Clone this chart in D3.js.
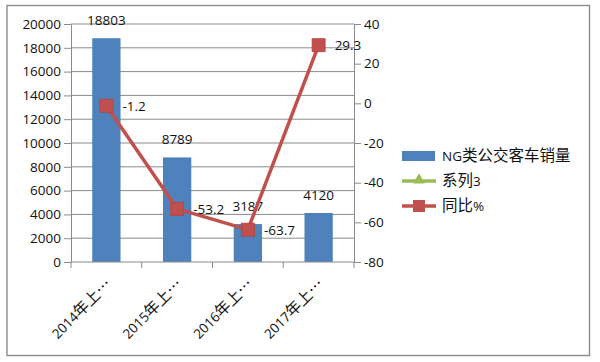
<!DOCTYPE html>
<html><head><meta charset="utf-8">
<script src="https://cdn.jsdelivr.net/npm/d3@7/dist/d3.min.js"></script>
<style>
body{margin:0;background:#fff;}
svg text{font-family:"Open Sans","Noto Sans CJK SC",sans-serif;font-size:13.5px;fill:#111;}
tspan.cjk{font-family:"Noto Sans CJK SC",sans-serif;font-size:15.5px;}
</style></head><body>
<svg id="c" width="600" height="362"></svg>
<script>
const categories = ["2014年上…","2015年上…","2016年上…","2017年上…"];
const sales = [18803, 8789, 3187, 4120];
const yoy = [-1.2, -53.2, -63.7, 29.3];
const leftTicks = [0,2000,4000,6000,8000,10000,12000,14000,16000,18000,20000];
const rightTicks = [-80,-60,-40,-20,0,20,40];
const legendNames = ["NG类公交客车销量","系列3","同比%"];

const svg = d3.select("#c");
const L = 71, R = 354, T = 24, B = 262;
const grid = "#8a8a8a";
const fmt = d => String(d);
const ff = '"Open Sans","Noto Sans CJK SC",sans-serif';

function rich(textSel){
  textSel.each(function(d){
    const t = d3.select(this);
    const parts = String(d).split(/([\u2026\u3000-\u9fff\uff00-\uffef]+)/).filter(s=>s.length);
    parts.forEach(p=>{
      const sp = t.append("tspan").text(p);
      if(/[\u2026\u3000-\u9fff\uff00-\uffef]/.test(p)) sp.attr("class","cjk");
    });
  });
}

svg.append("rect").attr("x",7).attr("y",5.5).attr("width",582.5).attr("height",350)
  .attr("fill","#fff").attr("stroke","#8c8c8c").attr("stroke-width",1.4);

const x = d3.scaleBand().domain(categories).range([L,R]).padding(0);
const yL = d3.scaleLinear().domain([0,20000]).range([B,T]);
const yR = d3.scaleLinear().domain([-80,40]).range([B,T]);

// gridlines
svg.append("g").selectAll("line").data(leftTicks.filter(d=>d>0)).join("line")
  .attr("x1",L).attr("x2",R).attr("y1",d=>yL(d)).attr("y2",d=>yL(d))
  .attr("stroke",grid).attr("stroke-width",1);

// left axis
const gl = svg.append("g").attr("transform",`translate(${L},0)`)
  .call(d3.axisLeft(yL).tickValues(leftTicks).tickFormat(fmt).tickSize(7).tickPadding(3).tickSizeOuter(0));
gl.select(".domain").attr("stroke",grid);
gl.selectAll(".tick line").attr("stroke",grid);
gl.selectAll("text").attr("fill","#111").style("font-size","13.5px").style("font-family",ff);

// right axis
const gr = svg.append("g").attr("transform",`translate(${R},0)`)
  .call(d3.axisRight(yR).tickValues(rightTicks).tickFormat(fmt).tickSize(7).tickPadding(3).tickSizeOuter(0));
gr.select(".domain").attr("stroke",grid);
gr.selectAll(".tick line").attr("stroke",grid);
gr.selectAll("text").attr("fill","#111").style("font-size","13.5px").style("font-family",ff);

// bars
const bw = x.bandwidth()*0.4;
svg.append("g").selectAll("rect").data(sales).join("rect")
  .attr("x",(d,i)=>x(categories[i])+x.bandwidth()/2-bw/2)
  .attr("width",bw)
  .attr("y",d=>yL(d)).attr("height",d=>B-yL(d))
  .attr("fill","#4F81BD");

// bottom axis
svg.append("line").attr("x1",L).attr("x2",R).attr("y1",B).attr("y2",B).attr("stroke",grid);
const edges = categories.map(c=>x(c)).concat([R]);
svg.append("g").selectAll("line").data(edges).join("line")
  .attr("x1",d=>d).attr("x2",d=>d).attr("y1",B).attr("y2",B+6).attr("stroke",grid);

// x labels
svg.append("g").selectAll("text").data(categories).join("text")
  .attr("text-anchor","end")
  .attr("transform",d=>`translate(${x(d)+x.bandwidth()/2+6},${B+23}) rotate(-45)`)
  .call(rich);

// bar value labels
svg.append("g").selectAll("text").data(sales).join("text")
  .attr("text-anchor","middle")
  .attr("x",(d,i)=>x(categories[i])+x.bandwidth()/2)
  .attr("y",d=>yL(d)-13)
  .text(d=>d);

// line
const cx = i=>x(categories[i])+x.bandwidth()/2;
const red = "#C0504D";
svg.append("path").datum(yoy)
  .attr("d",d3.line().x((d,i)=>cx(i)).y(d=>yR(d)))
  .attr("fill","none").attr("stroke",red).attr("stroke-width",3.5);
svg.append("g").selectAll("rect").data(yoy).join("rect")
  .attr("x",(d,i)=>cx(i)-6.5).attr("y",d=>yR(d)-6.5)
  .attr("width",13).attr("height",13)
  .attr("fill",red).attr("stroke","#b8423f").attr("stroke-width",0.8);
svg.append("g").selectAll("text").data(yoy).join("text")
  .attr("x",(d,i)=>cx(i)+16).attr("y",d=>yR(d)+5)
  .text(d=>d);

// legend
const lg = svg.append("g");
const lx = 402, ly = 156, ls = 25;
lg.append("rect").attr("x",lx).attr("y",ly-5).attr("width",33).attr("height",10).attr("fill","#4F81BD");
lg.append("line").attr("x1",lx).attr("x2",lx+34).attr("y1",ly+ls).attr("y2",ly+ls)
  .attr("stroke","#9BBB59").attr("stroke-width",3.5);
lg.append("path").attr("d",d3.symbol(d3.symbolTriangle,60)())
  .attr("transform",`translate(${lx+17},${ly+ls-1})`).attr("fill","#9BBB59");
lg.append("line").attr("x1",lx).attr("x2",lx+34).attr("y1",ly+2*ls).attr("y2",ly+2*ls)
  .attr("stroke",red).attr("stroke-width",3.5);
lg.append("rect").attr("x",lx+17-6).attr("y",ly+2*ls-6).attr("width",12).attr("height",12).attr("fill",red);
lg.selectAll("text").data(legendNames).join("text")
  .attr("x",lx+40).attr("y",(d,i)=>ly+i*ls+5).call(rich);
</script>
</body></html>
